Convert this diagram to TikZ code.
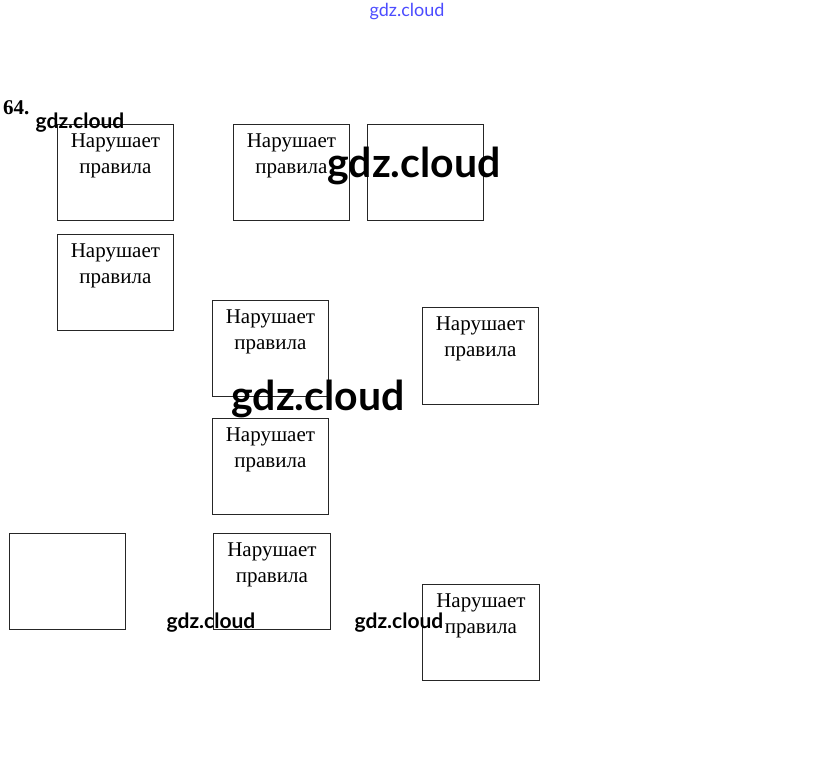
\documentclass[tikz,border=0pt]{standalone}
\usepackage{fontspec}
\setmainfont{Liberation Serif}
\newfontfamily\wmfont{Lato}
\usetikzlibrary{positioning}

\tikzset{
  box/.style={draw=black!85, line width=0.8pt, minimum width=116pt,
    minimum height=96pt, anchor=north west, inner sep=0pt},
  rule/.style={anchor=north, align=center, inner sep=0pt,
    font=\fontsize{21}{26}\selectfont},
  wm/.style={inner sep=0pt, font=\wmfont\bfseries\fontsize{21}{21}\selectfont},
  bigwm/.style={inner sep=0pt, font=\wmfont\bfseries\fontsize{41}{41}\selectfont},
}

\begin{document}
\begin{tikzpicture}[x=1pt,y=-1pt]
  \useasboundingbox (0,0) rectangle (815,775);
  % task number
  \node[anchor=base west, inner sep=0pt, font=\bfseries\fontsize{21}{21}\selectfont] (num) at (3,115) {64.};
  % the cards
  \node[box] (A) at (57,124) {};
  \node[box] (B) at (233,124) {};
  \node[box] (C) at (367,124) {};
  \node[box] (D) at (57,234) {};
  \node[box] (E) at (212,300) {};
  \node[box, minimum height=97pt] (F) at (422,307) {};
  \node[box] (G) at (212,418) {};
  \node[box] (H) at (9,533) {};
  \node[box, minimum width=117pt] (K) at (213,533) {};
  \node[box, minimum width=117pt] (L) at (422,584) {};
  \foreach \c in {A,B,D,E,F,G,K,L}
    \node[rule, below=10pt of \c.north] {Нарушает\\правила};
  % watermarks
  \node[inner sep=0pt, text=blue!70, font=\wmfont\fontsize{18}{18}\selectfont] (w0) at (407,12) {gdz.cloud};
  \node[wm] (w1) at (80,123) {gdz.cloud};
  \node[bigwm] (w2) at (414,166) {gdz.cloud};
  \node[bigwm] (w3) at (318,399) {gdz.cloud};
  \node[wm] (w4) at (211,623) {gdz.cloud};
  \node[wm] (w5) at (399,623) {gdz.cloud};
\end{tikzpicture}
\end{document}
